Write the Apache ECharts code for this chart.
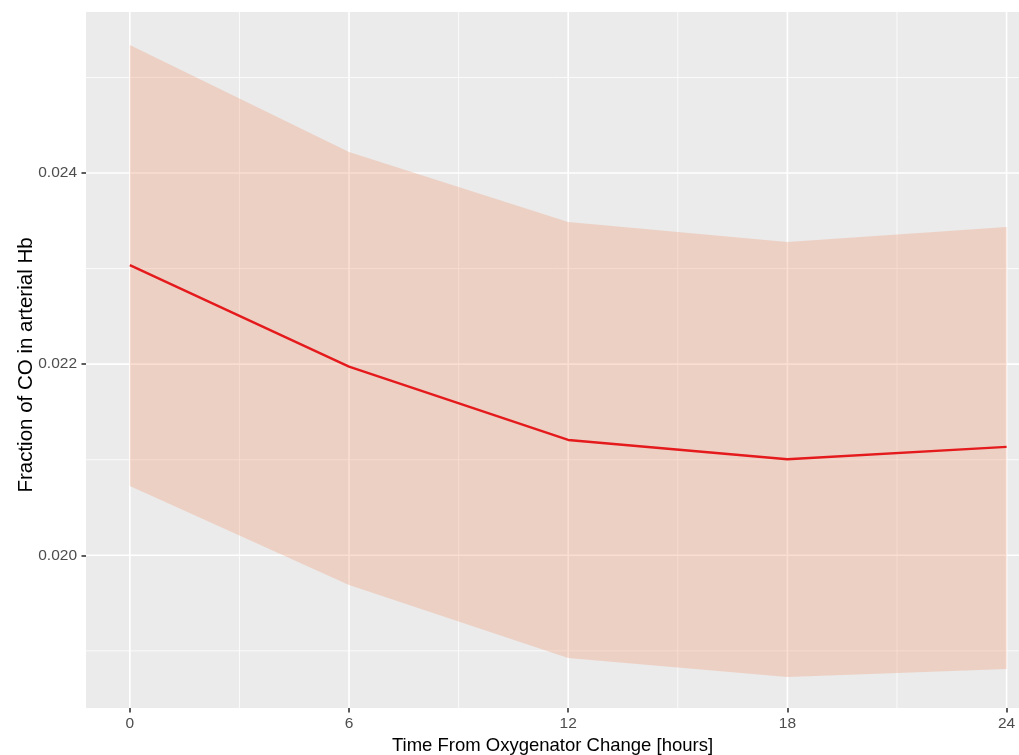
<!DOCTYPE html>
<html>
<head>
<meta charset="utf-8">
<script src="https://cdn.jsdelivr.net/npm/echarts@6/dist/echarts.min.js"></script>
<style>html,body{margin:0;padding:0;background:#fff}#c{width:1019px;height:755px}</style>
</head>
<body>
<div id="c"></div>
<script>
const hours = [0, 6, 12, 18, 24];
const fitValues = [0.023037, 0.021974, 0.021207, 0.021005, 0.021134];
const upperValues = [0.025339, 0.024220, 0.023487, 0.023278, 0.023435];
const lowerValues = [0.020725, 0.019689, 0.018925, 0.018727, 0.018810];
const xTicks = [0, 6, 12, 18, 24];
const xMinorTicks = [3, 9, 15, 21];
const yTicks = [0.020, 0.022, 0.024];
const yMinorTicks = [0.019, 0.021, 0.023, 0.025];

const X_MIN = -1.2, X_MAX = 24.34, Y_MIN = 0.018402, Y_MAX = 0.025685;

const chart = echarts.init(document.getElementById('c'));
const fitData = hours.map((h, i) => [h, fitValues[i]]);
const bandData = hours.map((h, i) => [h, lowerValues[i], upperValues[i]]);

// grid line specs: [direction (0 = vertical at x, 1 = horizontal at y), value, width]
const gridData = [];
xMinorTicks.forEach(v => gridData.push([0, v, 0.8]));
yMinorTicks.forEach(v => gridData.push([1, v, 0.8]));
xTicks.forEach(v => gridData.push([0, v, 1.6]));
yTicks.forEach(v => gridData.push([1, v, 1.6]));

chart.setOption({
  animation: false,
  backgroundColor: '#ffffff',
  grid: {left: 86, top: 12, right: 0, bottom: 47, show: true, backgroundColor: '#EBEBEB', borderWidth: 0,
    containLabel: false, outerBoundsMode: 'none'},
  xAxis: {
    type: 'value', min: X_MIN, max: X_MAX,
    name: 'Time From Oxygenator Change [hours]', nameLocation: 'middle', nameGap: 24,
    nameTextStyle: {fontFamily: 'Liberation Sans', fontSize: 18.5, color: '#000'},
    axisLine: {show: false, onZero: false},
    splitLine: {show: false},
    axisTick: {show: true, customValues: xTicks, length: 4.5, lineStyle: {color: '#333', width: 1.6}},
    axisLabel: {customValues: xTicks, fontFamily: 'Liberation Sans', fontSize: 15.5, color: '#4D4D4D', margin: 8}
  },
  yAxis: {
    type: 'value', min: Y_MIN, max: Y_MAX,
    name: 'Fraction of CO in arterial Hb', nameLocation: 'middle', nameGap: 49, nameRotate: 90,
    nameMoveOverlap: false,
    nameTextStyle: {fontFamily: 'Liberation Sans', fontSize: 20.5, color: '#000', padding: [0, 10, 0, 0]},
    axisLine: {show: false, onZero: false},
    splitLine: {show: false},
    axisTick: {show: true, customValues: yTicks, length: 4.5, lineStyle: {color: '#333', width: 1.6}},
    axisLabel: {customValues: yTicks, formatter: v => v.toFixed(3), fontFamily: 'Liberation Sans', fontSize: 15.5, color: '#4D4D4D', margin: 9}
  },
  series: [
    {
      type: 'custom', data: gridData, z: 1, silent: true, clip: true,
      renderItem: function (params, api) {
        const dir = api.value(0), v = api.value(1), w = api.value(2);
        let p1, p2;
        if (dir === 0) { p1 = api.coord([v, Y_MIN]); p2 = api.coord([v, Y_MAX]); }
        else { p1 = api.coord([X_MIN, v]); p2 = api.coord([X_MAX, v]); }
        return {type: 'line', shape: {x1: p1[0], y1: p1[1], x2: p2[0], y2: p2[1]},
          style: {stroke: '#ffffff', lineWidth: w}};
      }
    },
    {
      type: 'custom', data: bandData, z: 2, silent: true, clip: true,
      renderItem: function (params, api) {
        if (params.dataIndex !== 0) return null;
        const pts = [];
        for (let i = 0; i < bandData.length; i++) pts.push(api.coord([bandData[i][0], bandData[i][2]]));
        for (let i = bandData.length - 1; i >= 0; i--) pts.push(api.coord([bandData[i][0], bandData[i][1]]));
        return {type: 'polygon', shape: {points: pts}, style: {fill: 'rgba(242,145,105,0.3)'}};
      }
    },
    {type: 'line', data: fitData, symbol: 'none', lineStyle: {color: '#E41A1C', width: 2.4}, z: 3}
  ]
});
</script>
</body>
</html>
